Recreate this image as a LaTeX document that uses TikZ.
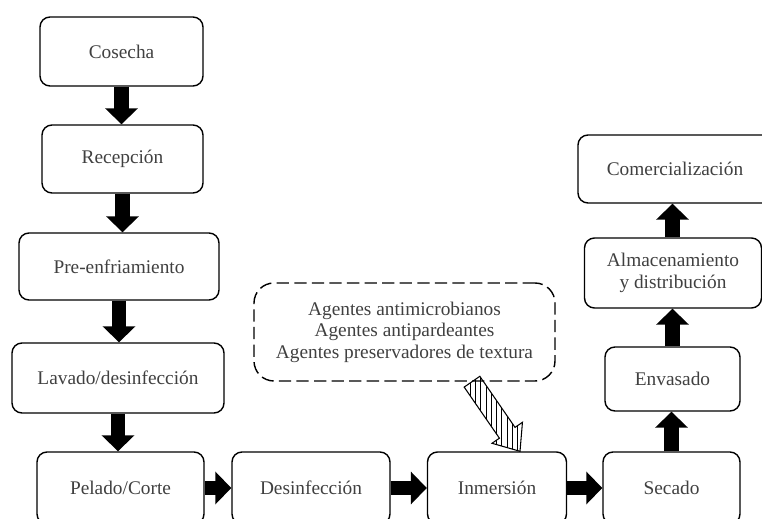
\documentclass[tikz,border=0pt]{standalone}
\usepackage{fontspec}
\setmainfont{Liberation Serif}
\usetikzlibrary{arrows.meta,calc,patterns}
\tikzset{
paso/.style={draw, rounded corners=0.2cm, line width=0.8pt, align=center,
  text=black!75, font=\fontsize{11}{12.2}\selectfont},
flecha/.style={line width=8pt, -{Triangle[length=9pt,width=18pt]}}
}

\begin{document}
\begin{tikzpicture}
  \useasboundingbox (0,0) rectangle (15.24,10.36);
  % columna izquierda
  \node[paso, minimum width=3.26cm, minimum height=1.38cm] (cos) at (2.43,9.33) {Cosecha};
  \node[paso, minimum width=3.22cm, minimum height=1.36cm] (rec) at (2.45,7.18) {Recepción};
  \node[paso, minimum width=4.0cm, minimum height=1.34cm] (pre) at (2.38,5.03) {Pre-enfriamiento};
  \node[paso, minimum width=4.24cm, minimum height=1.4cm] (lav) at (2.36,2.80) {Lavado/desinfección};
  % fila de abajo
  \node[paso, minimum width=3.34cm, minimum height=1.44cm] (pel) at (2.41,0.60) {Pelado/Corte};
  \node[paso, minimum width=3.16cm, minimum height=1.44cm] (des) at (6.22,0.60) {Desinfección};
  \node[paso, minimum width=2.78cm, minimum height=1.44cm] (inm) at (9.94,0.60) {Inmersión};
  \node[paso, minimum width=2.74cm, minimum height=1.44cm] (sec) at (13.43,0.60) {Secado};
  % columna derecha
  \node[paso, minimum width=2.7cm, minimum height=1.28cm] (env) at (13.45,2.78) {Envasado};
  \node[paso, minimum width=3.54cm, minimum height=1.4cm] (alm) at (13.46,4.90) {Almacenamiento\\y distribución};
  \node[paso, minimum width=3.88cm, minimum height=1.36cm] (com) at (13.50,6.98) {Comercialización};
  % agentes
  \node[paso, dash pattern=on 7pt off 3pt, rounded corners=0.4cm, minimum width=6.02cm,
    minimum height=1.96cm] (ag) at (8.09,3.72)
    {Agentes antimicrobianos\\Agentes antipardeantes\\Agentes preservadores de textura};

  \draw[flecha] (cos.south) -- (cos.south |- rec.north);
  \draw[flecha] (rec.south) -- (rec.south |- pre.north);
  \draw[flecha] (pre.south) -- (pre.south |- lav.north);
  \draw[flecha] (lav.south) -- (lav.south |- pel.north);
  \draw[flecha] (pel.east) -- (des.west);
  \draw[flecha] (des.east) -- (inm.west);
  \draw[flecha] (inm.east) -- (sec.west);
  \draw[flecha] (sec.north) -- (sec.north |- env.south);
  \draw[flecha] (env.north) -- (env.north |- alm.south);
  \draw[flecha] (env.north |- alm.north) -- (env.north |- com.south);

  % flecha rayada
  \coordinate (s) at ([xshift=1.35cm]ag.south);
  \coordinate (t) at ([xshift=0.46cm]inm.north);
  \coordinate (h) at ($(t)!0.45cm!(s)$);
  \draw[line width=0.6pt, pattern=vertical lines]
    ($(s)!0.19cm!90:(t)$) -- ($(h)!0.19cm!90:(t)$) -- ($(h)!0.37cm!90:(t)$) -- (t)
    -- ($(h)!0.37cm!-90:(t)$) -- ($(h)!0.19cm!-90:(t)$) -- ($(s)!0.19cm!-90:(t)$) -- cycle;
\end{tikzpicture}
\end{document}
